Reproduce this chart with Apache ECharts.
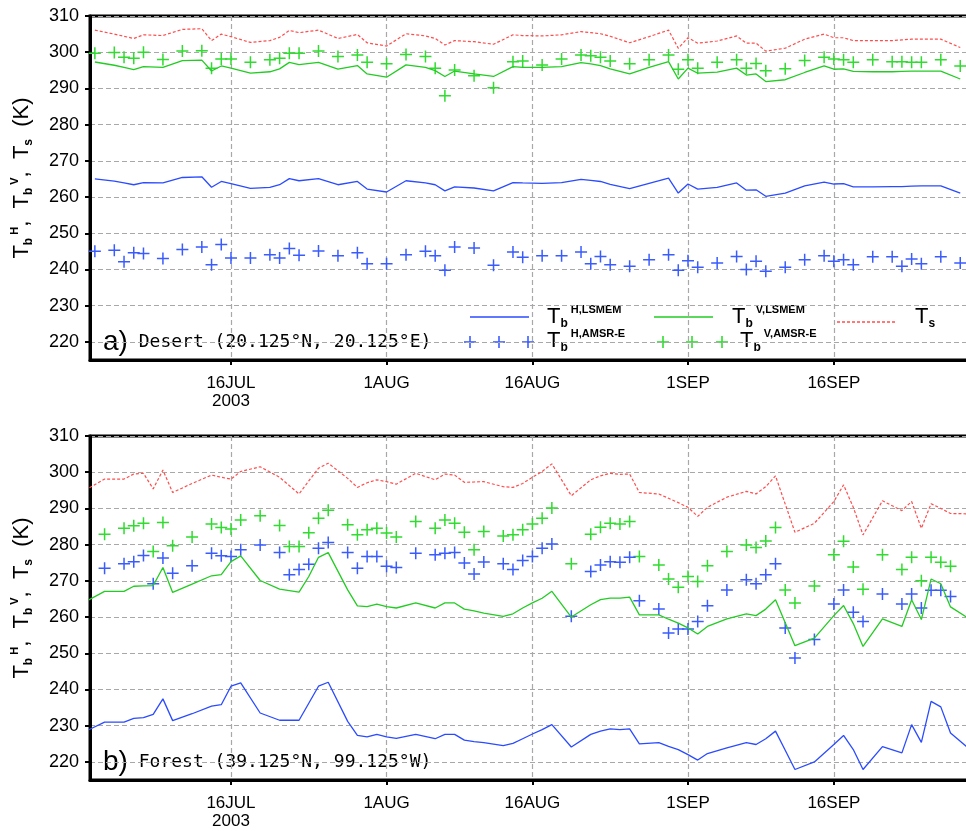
<!DOCTYPE html>
<html>
<head>
<meta charset="UTF-8">
<title>Tb time series</title>
<script src="https://cdn.jsdelivr.net/npm/echarts@6/dist/echarts.min.js"></script>
</head>
<body style="margin:0;background:#fff;">
<div id="chart" style="width:966px;height:831px;"></div>
<script>
// x = days since 1 JUL 2003 (0 = 1JUL)
var tickDays = [15, 31, 46, 62, 77];
var tickLabels = ['16JUL', '1AUG', '16AUG', '1SEP', '16SEP'];
var yTicks = [220, 230, 240, 250, 260, 270, 280, 290, 300, 310];

// a) Desert
var desertDays = [1,3,4,5,6,8,10,12,13,14,15,17,19,20,21,22,24,26,28,29,31,33,35,36,37,38,40,42,44,45,
  47,49,51,52,53,54,56,58,60,61,62,63,65,67,68,69,70,72,74,76,77,78,79,81,83,84,85,86,88,90];
var desertHLsmem = [265.0,264.4,263.9,263.4,264.0,263.9,265.4,265.6,262.7,264.3,
  263.7,262.4,262.7,263.4,265.1,264.5,265.1,263.4,264.3,262.2,
  261.4,264.5,263.9,263.4,261.7,262.8,262.5,261.7,264.0,263.9,
  263.8,264.0,264.9,264.6,264.3,263.5,262.3,263.8,265.2,261.1,
  263.6,262.2,262.7,263.9,261.9,262.0,260.2,261.1,263.1,264.1,
  263.6,263.7,262.8,262.8,262.9,262.9,263.0,263.1,263.1,261.1];
var desertVLsmem = [297.3,296.4,295.8,295.2,296.0,295.8,297.7,297.8,294.8,296.2,
  295.6,294.2,294.6,295.4,297.2,296.6,297.2,295.3,296.3,294.0,
  293.1,296.5,295.8,294.9,293.3,294.8,294.0,293.3,296.0,295.8,
  295.8,296.0,297.1,296.8,296.3,295.4,294.0,295.8,297.4,292.6,
  295.6,294.2,294.5,295.6,293.7,294.0,291.9,292.4,294.4,296.2,
  295.3,295.4,294.7,294.6,294.6,294.7,294.8,294.8,294.8,292.6];
var desertTs = [306.1,305.0,304.4,303.8,304.8,304.6,306.3,306.5,303.2,305.0,
  304.3,302.7,303.2,304.1,306.0,305.4,306.1,303.8,304.9,302.6,
  301.7,305.1,304.5,303.8,302.0,303.2,302.9,302.2,304.8,304.6,
  304.5,304.8,305.7,305.4,305.1,304.4,302.6,304.3,306.1,301.1,
  304.0,302.5,303.1,304.5,302.5,302.5,300.3,301.1,303.6,305.0,
  304.0,304.0,303.2,303.2,303.2,303.4,303.6,303.6,303.6,301.3];
var desertHAmsr = [245.0,245.3,242.1,244.6,244.4,243.0,245.5,246.2,241.3,246.9,
  243.2,243.2,244.1,243.2,245.8,243.9,245.1,243.8,244.6,241.6,
  241.6,244.1,245.0,243.8,239.8,246.2,245.9,241.2,244.8,243.4,
  243.8,243.8,244.8,241.6,243.6,241.3,240.9,242.7,244.1,239.8,
  242.4,240.6,241.8,243.6,240.0,242.3,239.5,240.6,242.7,243.8,
  242.3,242.7,241.3,243.5,243.5,240.9,242.9,241.6,243.5,241.8];
var desertVAmsr = [299.7,299.9,298.6,298.3,300.0,298.0,300.3,300.4,295.6,298.1,
  298.1,297.2,297.9,298.3,299.7,299.7,300.3,298.8,299.2,297.2,
  296.8,299.4,298.8,295.6,288.0,295.1,293.5,290.2,297.4,297.6,
  296.5,298.1,299.2,299.0,298.6,297.6,296.8,297.9,299.2,295.3,
  297.9,295.6,297.2,297.9,295.6,296.9,294.9,295.4,297.7,298.6,
  298.1,297.9,297.2,297.9,297.4,297.4,297.2,297.2,297.9,296.2];

// b) Forest
var forestDays = [0,2,4,5,6,7,8,9,11,13,14,15,16,18,20,21,22,23,24,25,27,28,29,30,31,32,34,36,37,38,
  39,40,41,43,44,45,46,47,48,50,52,53,54,55,56,57,59,60,61,62,63,64,66,68,69,70,71,72,73,75,
  77,78,79,80,82,84,85,86,87,88,89,91];
var forestHLsmem = [228.4,231.0,231.0,232.0,232.2,233.1,237.4,231.4,233.3,235.4,
  235.8,240.9,241.8,233.5,231.5,231.5,231.5,236.2,240.9,242.0,
  231.2,227.3,226.9,227.6,226.9,226.5,227.6,226.4,227.6,227.6,
  226.0,225.6,225.3,224.5,225.1,226.4,227.7,228.9,230.3,224.1,
  227.6,228.5,229.1,228.9,229.1,225.0,225.3,224.3,223.4,222.0,
  220.5,222.3,223.9,225.3,224.8,226.4,228.5,223.2,217.9,220.0,
  224.8,227.3,223.4,217.9,224.2,222.5,230.3,225.4,236.7,235.2,
  228.0,223.4];
var forestVLsmem = [264.2,267.1,267.1,268.5,268.6,268.7,273.7,266.8,269.1,271.4,
  271.7,275.3,276.9,270.1,267.7,267.3,266.9,271.2,276.5,277.8,
  267.5,263.1,262.9,263.6,262.9,262.5,263.9,262.5,263.9,263.9,
  262.2,261.7,261.1,260.2,260.9,262.5,263.9,265.2,267.1,260.0,
  263.4,264.8,265.2,265.2,265.5,260.6,260.6,259.4,258.3,257.0,
  255.3,257.4,259.5,260.9,260.4,262.2,264.8,258.4,252.1,254.2,
  260.4,263.2,258.2,251.9,259.5,257.4,264.8,259.3,270.5,269.2,
  262.8,259.4];
var forestTs = [295.0,298.1,298.1,299.5,299.7,295.4,300.6,294.4,296.9,299.2,
  298.6,298.1,300.2,301.5,298.6,296.3,294.0,297.6,301.1,302.5,
  298.3,295.8,297.1,297.9,297.4,296.7,299.7,297.9,299.5,299.2,
  297.2,297.3,297.4,296.0,295.8,296.9,298.6,300.2,302.3,293.5,
  297.9,299.0,299.7,299.4,299.5,294.4,294.0,292.8,291.6,290.3,
  287.8,290.3,293.1,294.7,294.0,296.0,299.0,291.2,283.4,285.9,
  291.9,296.5,290.3,282.7,292.1,289.4,291.9,284.5,291.3,290.0,
  288.6,288.5];
var forestHAmsr = [267.5,273.5,274.7,275.3,277.0,269.2,276.3,272.1,274.2,277.6,
  276.9,276.7,278.6,279.9,277.8,271.7,273.1,274.6,279.0,280.6,
  277.8,273.5,276.7,276.7,274.0,273.7,277.6,277.2,277.6,277.8,
  274.9,271.9,275.2,274.7,273.1,275.6,276.7,279.0,280.2,260.2,
  272.6,274.4,275.3,275.1,276.5,264.5,262.2,255.6,256.7,256.7,
  258.8,263.1,267.5,270.3,269.2,271.7,274.7,257.0,248.7,253.8,
  263.6,267.5,261.3,258.8,266.4,263.6,266.4,262.5,267.4,267.4,
  265.7,264.5];
var forestVAmsr = [277.6,282.9,284.5,285.2,285.9,278.1,286.1,279.7,282.1,285.7,
  284.7,284.3,286.8,288.0,285.3,279.5,279.5,283.3,287.3,289.5,
  285.5,282.7,284.1,284.5,283.2,282.1,286.4,284.5,286.8,285.9,
  283.4,278.6,283.6,282.4,282.7,284.1,285.7,287.3,290.1,274.7,
  282.9,284.8,285.9,285.7,286.4,276.7,274.4,270.5,268.2,271.2,
  269.8,274.2,278.1,279.9,279.2,281.0,284.7,267.5,263.9,268.6,
  277.2,280.9,273.8,267.7,277.2,273.1,276.5,270.0,276.5,275.1,
  274.0,271.7];

var BLUE = '#2a4bff', GREEN = '#22cc22', RED = '#ff4d4d';
var BLUE_M = '#3a5cff', GREEN_M = '#2fdc2f';
var PLUS = 'path://M0,5.25H12V6.75H0ZM5.25,0H6.75V12H5.25Z';

function pairs(days, vals) {
  return days.map(function (d, i) { return [d, vals[i]]; });
}

var chart = echarts.init(document.getElementById('chart'));

var grids = [
  { left: 90, top: 16, right: -3, height: 344 },
  { left: 90, top: 436, right: -3, height: 344 }
];

function xAxisFor(i) {
  return {
    gridIndex: i, type: 'value', min: 0.5, max: 90.9,
    axisLine: { show: true, onZero: false, lineStyle: { color: '#000', width: 3 } },
    axisTick: { show: true, customValues: tickDays, length: 5, lineStyle: { color: '#000', width: 2 } },
    axisLabel: {
      customValues: tickDays, margin: 14, color: '#000', fontSize: 17, lineHeight: 18,
      fontFamily: 'Liberation Sans',
      formatter: function (v) {
        var k = tickDays.indexOf(Math.round(v));
        if (k < 0) return '';
        return k === 0 ? tickLabels[k] + '\n2003' : tickLabels[k];
      }
    },
    splitLine: { show: true, lineStyle: { color: '#a8a8a8', type: [5, 3], width: 1.2 } }
  };
}
function yAxisFor(i) {
  return {
    gridIndex: i, type: 'value', min: 215, max: 310,
    axisLine: { show: true, lineStyle: { color: '#000', width: 3 } },
    axisTick: { show: true, customValues: yTicks, length: 5, lineStyle: { color: '#000', width: 2 } },
    axisLabel: { customValues: yTicks, margin: 11, color: '#000', fontSize: 18, fontFamily: 'Liberation Sans' },
    splitLine: { show: true, lineStyle: { color: '#a8a8a8', type: [5, 3], width: 1.2 } }
  };
}

function panelSeries(i, days, hL, vL, ts, hA, vA) {
  return [
    { type: 'line', xAxisIndex: i, yAxisIndex: i, data: pairs(days, ts), showSymbol: false,
      lineStyle: { color: RED, width: 1.2, type: [3, 2] }, silent: true },
    { type: 'line', xAxisIndex: i, yAxisIndex: i, data: pairs(days, vL), showSymbol: false,
      lineStyle: { color: GREEN, width: 1.3 }, silent: true },
    { type: 'line', xAxisIndex: i, yAxisIndex: i, data: pairs(days, hL), showSymbol: false,
      lineStyle: { color: BLUE, width: 1.3 }, silent: true },
    { type: 'scatter', xAxisIndex: i, yAxisIndex: i, data: pairs(days, vA), symbol: PLUS,
      symbolSize: 12, itemStyle: { color: GREEN_M, opacity: 1 }, silent: true },
    { type: 'scatter', xAxisIndex: i, yAxisIndex: i, data: pairs(days, hA), symbol: PLUS,
      symbolSize: 12, itemStyle: { color: BLUE_M, opacity: 1 }, silent: true }
  ];
}

// rich text styles for T with sub/superscripts
var richT = {
  T: { fontSize: 22, lineHeight: 26, fontFamily: 'Liberation Sans', fill: '#000' },
  b: { fontSize: 12, lineHeight: 9, fontWeight: 'bold', fontFamily: 'Liberation Sans', verticalAlign: 'bottom', fill: '#000' },
  p: { fontSize: 11, lineHeight: 17, fontWeight: 'bold', fontFamily: 'Liberation Sans', verticalAlign: 'top', fill: '#000', padding: [0, 0, 0, 3] }
};

function tLabel(x, y, txt) {
  return { type: 'text', x: x, y: y, style: { text: txt, rich: richT, align: 'left', verticalAlign: 'middle', fill: '#000' } };
}
function plus(cx, cy, color) {
  return { type: 'group', children: [
    { type: 'line', shape: { x1: cx - 6, y1: cy, x2: cx + 6, y2: cy }, style: { stroke: color, lineWidth: 1.6 } },
    { type: 'line', shape: { x1: cx, y1: cy - 6, x2: cx, y2: cy + 6 }, style: { stroke: color, lineWidth: 1.6 } }
  ] };
}
function sample(x1, x2, y, color, dash) {
  return { type: 'line', shape: { x1: x1, y1: y, x2: x2, y2: y },
    style: { stroke: color, lineWidth: 1.3, lineDash: dash || null } };
}
function yTitle(cy) {
  return { type: 'text', x: 22, y: cy, rotation: Math.PI / 2,
    style: { text: '{T|T}{b|b}{p|H}{T|,  T}{b|b}{p|V}{T|,  T}{b|s}{T|  (K)}', rich: richT,
      align: 'center', verticalAlign: 'middle', fill: '#000' } };
}
function panelTitle(y, tag, txt) {
  return { type: 'text', x: 103, y: y,
    style: { text: '{big|' + tag + '}{mono| ' + txt + '}', align: 'left', verticalAlign: 'middle', fill: '#000',
      rich: {
        big: { fontSize: 28, fontFamily: 'Liberation Sans', fill: '#000' },
        mono: { fontSize: 18, fontFamily: 'DejaVu Sans Mono', fill: '#000' }
      } } };
}

var option = {
  animation: false,
  backgroundColor: '#fff',
  grid: grids.map(function (g) {
    return Object.assign({ show: true, borderColor: '#000', borderWidth: 3, backgroundColor: 'transparent', outerBoundsMode: 'none' }, g);
  }),
  xAxis: [xAxisFor(0), xAxisFor(1)],
  yAxis: [yAxisFor(0), yAxisFor(1)],
  series: panelSeries(0, desertDays, desertHLsmem, desertVLsmem, desertTs, desertHAmsr, desertVAmsr)
    .concat(panelSeries(1, forestDays, forestHLsmem, forestVLsmem, forestTs, forestHAmsr, forestVAmsr)),
  graphic: [
    yTitle(178),
    yTitle(598),
    panelTitle(342, 'a)', 'Desert (20.125°N, 20.125°E)'),
    panelTitle(762, 'b)', 'Forest (39.125°N, 99.125°W)'),
    // legend
    sample(470, 529, 317, BLUE),
    tLabel(547, 317, '{T|T}{b|b}{p|H,LSMEM}'),
    sample(654, 713, 317, GREEN),
    tLabel(732, 317, '{T|T}{b|b}{p|V,LSMEM}'),
    sample(837, 897, 322, RED, [3, 2]),
    tLabel(915, 317, '{T|T}{b|s}'),
    plus(470, 342, BLUE_M), plus(499, 342, BLUE_M), plus(528, 342, BLUE_M),
    tLabel(547, 341, '{T|T}{b|b}{p|H,AMSR-E}'),
    plus(663, 342, GREEN_M), plus(692, 342, GREEN_M), plus(722, 342, GREEN_M),
    tLabel(740, 341, '{T|T}{b|b}{p|V,AMSR-E}')
  ]
};
chart.setOption(option);
</script>
</body>
</html>
